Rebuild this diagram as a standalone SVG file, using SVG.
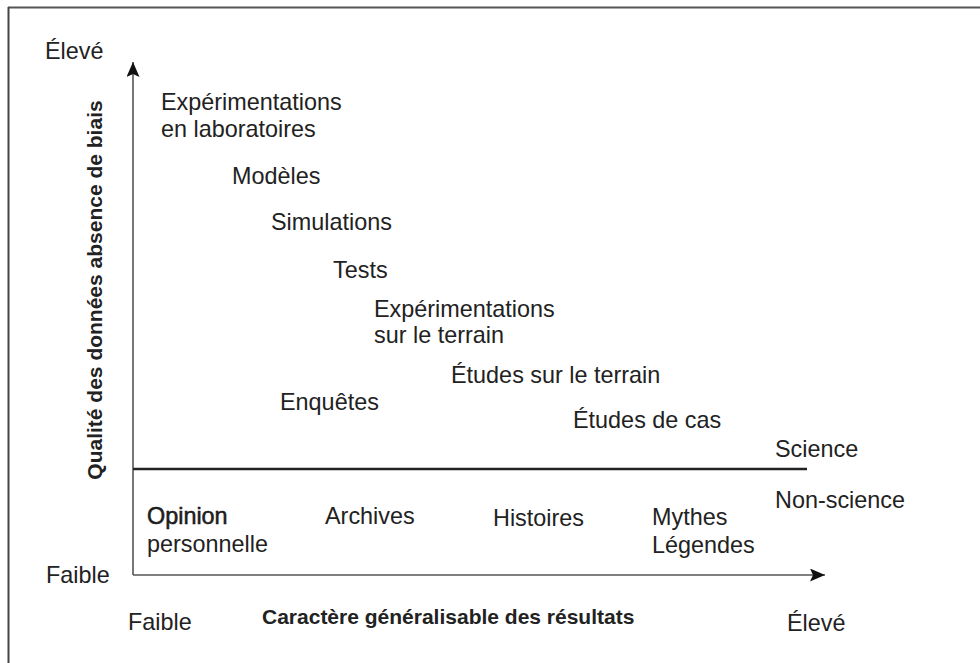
<svg xmlns="http://www.w3.org/2000/svg" width="980" height="663" viewBox="0 0 980 663">
<style>
.t{font-family:"Liberation Sans",Arial,sans-serif;font-size:23.4px;fill:#222}
.b{font-family:"Liberation Sans",Arial,sans-serif;font-size:21px;font-weight:bold;fill:#222}
.ax{stroke:#555;stroke-width:1.6;fill:none}
</style>
<defs>
<marker id="ah" markerUnits="userSpaceOnUse" markerWidth="16" markerHeight="14" refX="15" refY="6.5" orient="auto">
<path d="M0,0 L15,6.5 L0,13 L3,6.5 Z" fill="#111"/>
</marker>
</defs>
<rect width="980" height="663" fill="#fff"/>
<g id="frame">
<line x1="8" y1="7.5" x2="980" y2="7.5" stroke="#555" stroke-width="2"/>
<line x1="8.5" y1="7" x2="8.5" y2="663" stroke="#444" stroke-width="2"/>
</g>
<g id="connectors">
<line class="ax" x1="133" y1="575" x2="133" y2="62" marker-end="url(#ah)"/>
<line class="ax" x1="133" y1="575" x2="825" y2="575" marker-end="url(#ah)"/>
<line x1="133" y1="469" x2="807" y2="469" stroke="#222" stroke-width="2.5"/>
</g>
<g id="axis-labels">
<text class="t" x="45" y="59">Élevé</text>
<text class="t" x="46" y="583">Faible</text>
<text class="t" x="128" y="630">Faible</text>
<text class="t" x="787" y="631">Élevé</text>
<text class="b" x="262" y="624">Caractère généralisable des résultats</text>
<text class="b" text-anchor="middle" transform="translate(102,290) rotate(-90)">Qualité des données absence de biais</text>
</g>
<g id="n-labo"><text class="t" x="161" y="110">Expérimentations</text><text class="t" x="161" y="137">en laboratoires</text></g>
<g id="n-modeles"><text class="t" x="232" y="184">Modèles</text></g>
<g id="n-simulations"><text class="t" x="271" y="230">Simulations</text></g>
<g id="n-tests"><text class="t" x="333" y="278">Tests</text></g>
<g id="n-terrain"><text class="t" x="374" y="317">Expérimentations</text><text class="t" x="374" y="343">sur le terrain</text></g>
<g id="n-etudes-terrain"><text class="t" x="451" y="383">Études sur le terrain</text></g>
<g id="n-enquetes"><text class="t" x="280" y="410">Enquêtes</text></g>
<g id="n-cas"><text class="t" x="573" y="428">Études de cas</text></g>
<g id="n-science"><text class="t" x="775" y="457">Science</text></g>
<g id="n-nonscience"><text class="t" x="775" y="508">Non-science</text></g>
<g id="n-opinion"><text class="t" x="147" y="524" style="stroke:#111;stroke-width:0.5">Opinion</text><text class="t" x="147" y="552">personnelle</text></g>
<g id="n-archives"><text class="t" x="325" y="524">Archives</text></g>
<g id="n-histoires"><text class="t" x="493" y="526">Histoires</text></g>
<g id="n-mythes"><text class="t" x="652" y="525">Mythes</text><text class="t" x="652" y="553">Légendes</text></g>
</svg>
